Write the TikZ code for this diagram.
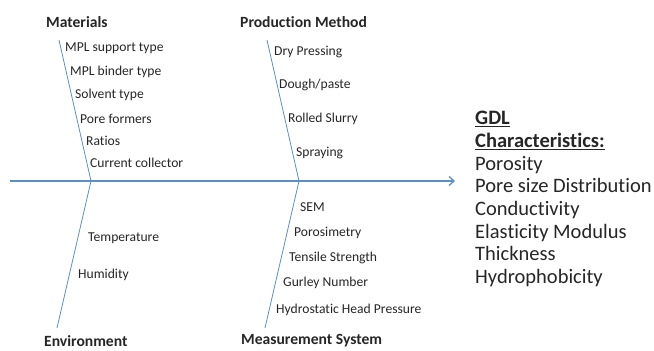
\documentclass[tikz,border=0pt]{standalone}
\usepackage{fontspec}
\setmainfont[Ligatures={NoCommon}]{Carlito}
\usetikzlibrary{arrows.meta}
\definecolor{bone}{HTML}{5B8FC7}
\definecolor{txt}{HTML}{262626}
\tikzset{
  spine/.style={draw=bone, line width=1.3pt},
  rib/.style={draw=bone, line width=0.8pt},
  cat/.style={font=\fontsize{15.6}{18}\selectfont\bfseries, text=txt, anchor=west, inner sep=0pt},
  cause/.style={font=\fontsize{13.6}{16}\selectfont, text=txt, anchor=west, inner sep=0pt},
  res/.style={font=\fontsize{20.5}{22.7}\selectfont, text=txt, anchor=north west, inner sep=0pt, align=left},
}
\begin{document}
\begin{tikzpicture}[x=1pt,y=-1pt]
\useasboundingbox (0,0) rectangle (654,351);
% spine
\coordinate (s0) at (10,181);
\coordinate (s1) at (455,181);
\coordinate (jA) at (91,181);
\coordinate (jB) at (299,181);
\draw[spine,-{Straight Barb[length=5pt,width=9pt]}] (s0) -- (s1);
% ribs
\coordinate (tA) at (59,40);
\coordinate (tB) at (267,40);
\coordinate (bA) at (57,328);
\coordinate (bB) at (265,328);
\draw[rib] (tA) -- (jA);
\draw[rib] (tB) -- (jB);
\draw[rib] (jA) -- (bA);
\draw[rib] (jB) -- (bB);
% categories
\node[cat] (mat) at (46,22) {Materials};
\node[cat] (pm) at (240,22) {Production Method};
\node[cat] (env) at (44,341) {Environment};
\node[cat] (ms) at (241,341) {Measurement System};
% materials causes
\node[cause] (m1) at (65,48) {MPL support type};
\node[cause] (m2) at (70,72) {MPL binder type};
\node[cause] (m3) at (75,95) {Solvent type};
\node[cause] (m4) at (80,119) {Pore formers};
\node[cause] (m5) at (86,141) {Ratios};
\node[cause] (m6) at (90,163) {Current collector};
% production causes
\node[cause] (p1) at (274,52) {Dry Pressing};
\node[cause] (p2) at (279,85) {Dough/paste};
\node[cause] (p3) at (288,119) {Rolled Slurry};
\node[cause] (p4) at (296,153) {Spraying};
% environment causes
\node[cause] (e1) at (88,238) {Temperature};
\node[cause] (e2) at (78,275) {Humidity};
% measurement causes
\node[cause] (q1) at (300,207) {SEM};
\node[cause] (q2) at (294,233) {Porosimetry};
\node[cause] (q3) at (289,258) {Tensile Strength};
\node[cause] (q4) at (283,283) {Gurley Number};
\node[cause] (q5) at (276,310) {Hydrostatic Head Pressure};
% result
\node[res] (gdl) at (475,111) {\underline{\textbf{GDL}}\\ \underline{\textbf{Characteristics:}}\\ Porosity\\ Pore size Distribution\\ Conductivity\\ Elasticity Modulus\\ Thickness\\ Hydrophobicity};
\end{tikzpicture}
\end{document}
